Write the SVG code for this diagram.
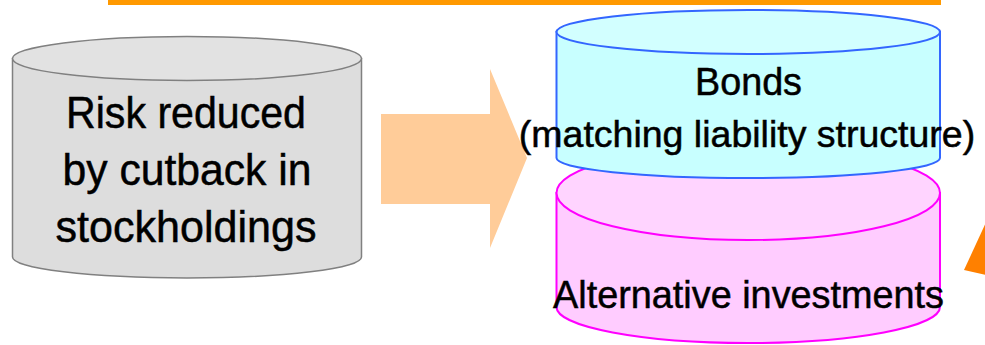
<svg xmlns="http://www.w3.org/2000/svg" width="985" height="345" viewBox="0 0 985 345">
<style>
  text { font-family: "Liberation Sans", Arial, sans-serif; fill: #000; stroke: #000; stroke-width: 0.5; text-anchor: middle; }
  .big { font-size: 45px; }
  .mid { font-size: 39px; }
  .gray { fill: #DDDDDD; stroke: #808080; stroke-width: 1.5; }
  .grayTop { fill: #E2E2E2; stroke: #808080; stroke-width: 1.5; }
  .blue { fill: #C8FFFF; stroke: #3366FF; stroke-width: 2; }
  .blueTop { fill: #D2FFFF; stroke: #3366FF; stroke-width: 2; }
  .pink { fill: #FFCCFF; stroke: #FF00FF; stroke-width: 2; }
  .pinkTop { fill: #FFD4FF; stroke: #FF00FF; stroke-width: 2; }
</style>
<rect x="108" y="0" width="833" height="5" fill="#FF9900"/>
<g id="connectors">
  <polygon points="381,114 490,114 490,69 527,158 490,248 490,204 381,204" fill="#FFCC99"/>
  <polygon points="964,270 995,203 995,277" fill="#FF8000"/>
</g>
<g id="risk">
  <path class="gray" d="M12.5,58.5 V257 A174.5,21 0 0 0 361.5,257 V58.5 Z"/>
  <ellipse class="grayTop" cx="187" cy="58.5" rx="174.5" ry="22"/>
  <text class="big" x="186" y="127.5" textLength="240" lengthAdjust="spacingAndGlyphs">Risk reduced</text>
  <text class="big" x="187" y="185" textLength="249" lengthAdjust="spacingAndGlyphs">by cutback in</text>
  <text class="big" x="186" y="241.5" textLength="261" lengthAdjust="spacingAndGlyphs">stockholdings</text>
</g>
<g id="alternative">
  <path class="pink" d="M556.5,193 V307 A191.75,36 0 0 0 940,307 V193 Z"/>
  <ellipse class="pinkTop" cx="748.25" cy="193" rx="191.75" ry="47"/>
</g>
<g id="bonds">
  <path class="blue" d="M556.5,32 V158 A191.75,20 0 0 0 940,158 V32 Z"/>
  <ellipse class="blueTop" cx="748.25" cy="32" rx="191.75" ry="22"/>
  <text class="mid" x="748.5" y="95" textLength="107" lengthAdjust="spacingAndGlyphs">Bonds</text>
  <text x="747" y="147" style="font-size:37.5px">(matching liability structure)</text>
</g>
<text class="mid" x="748.5" y="308" textLength="391" lengthAdjust="spacingAndGlyphs">Alternative investments</text>
</svg>
